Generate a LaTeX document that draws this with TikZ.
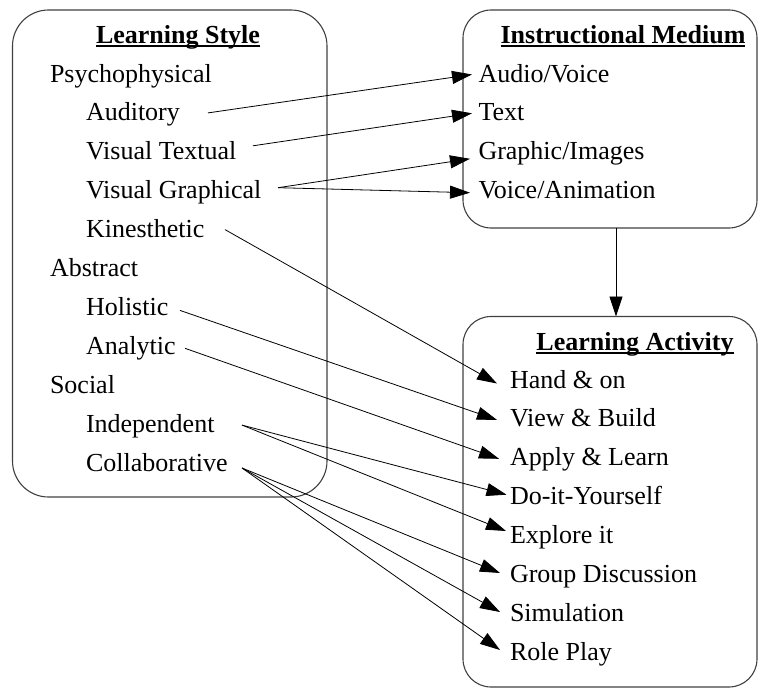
\documentclass[tikz,border=0pt]{standalone}
\usepackage{fontspec}
\setmainfont{Liberation Serif}
\usetikzlibrary{arrows.meta}
\begin{document}
\begin{tikzpicture}[x=1pt,y=-1pt,
  every node/.style={inner sep=0pt, outer sep=0pt, font=\fontsize{26}{31}\selectfont},
  item/.style={anchor=base west},
  ttl/.style={anchor=base, font=\fontsize{26}{31}\selectfont\bfseries},
  box/.style={draw=black!75, line width=1.1pt, rounded corners=#1, anchor=north west},
  conn/.style={draw=black, line width=0.8pt, -{Triangle[length=20pt,width=13pt]}},
  uline/.style={line width=1.4pt}]
\useasboundingbox (0,0) rectangle (758,688);

% boxes
\node[box=36pt, minimum width=314.5pt, minimum height=487pt] (ls) at (12.5,10) {};
\node[box=28pt, minimum width=294pt, minimum height=218pt] (im) at (463,10) {};
\node[box=28pt, minimum width=294pt, minimum height=370.5pt] (la) at (463,316.5) {};

% titles
\node[ttl] (lst) at (178,43) {Learning Style};
\node[ttl] (imt) at (623,43) {Instructional Medium};
\node[ttl] (lat) at (635,350) {Learning Activity};
\draw[uline] ([shift={(0,3)}]lst.base west) -- ([shift={(0,3)}]lst.base east);
\draw[uline] ([shift={(0,3)}]imt.base west) -- ([shift={(0,3)}]imt.base east);
\draw[uline] ([shift={(0,3)}]lat.base west) -- ([shift={(0,3)}]lat.base east);

% learning style items
\node[item] (psy) at (50,82) {Psychophysical};
\node[item] (aud) at (86,120.9) {Auditory};
\node[item] (vt)  at (86,159.8) {Visual Textual};
\node[item] (vg)  at (86,198.7) {Visual Graphical};
\node[item] (kin) at (86,237.6) {Kinesthetic};
\node[item] (abs) at (50,276.5) {Abstract};
\node[item] (hol) at (86,315.4) {Holistic};
\node[item] (ana) at (86,354.3) {Analytic};
\node[item] (soc) at (50,393.2) {Social};
\node[item] (ind) at (86,432.1) {Independent};
\node[item] (col) at (86,471) {Collaborative};

% instructional medium items
\node[item] (audio) at (478.5,82) {Audio/Voice};
\node[item] (text)  at (478.5,120.9) {Text};
\node[item] (graph) at (478.5,159.8) {Graphic/Images};
\node[item] (vanim) at (478.5,198.7) {Voice/Animation};

% learning activity items
\node[item] (hand) at (510,388) {Hand \& on};
\node[item] (view) at (510,426.9) {View \& Build};
\node[item] (apply) at (510,465.8) {Apply \& Learn};
\node[item] (diy) at (510,504.7) {Do-it-Yourself};
\node[item] (expl) at (510,543.6) {Explore it};
\node[item] (grp) at (510,582.5) {Group Discussion};
\node[item] (sim) at (510,621.4) {Simulation};
\node[item] (role) at (510,660.3) {Role Play};

% connectors
\draw[conn] ([shift={(122,-8)}]aud.base west) -- ([shift={(-6.5,-7.5)}]audio.base west);
\draw[conn] ([shift={(167,-14)}]vt.base west) -- ([shift={(-6.5,-7.6)}]text.base west);
\draw[conn] ([shift={(192,-11)}]vg.base west) -- ([shift={(-8.5,-1)}]graph.base west);
\draw[conn] ([shift={(192,-11)}]vg.base west) -- ([shift={(-8.5,-6)}]vanim.base west);
\draw[conn] ([shift={(139,-8)}]kin.base west) -- ([shift={(-13,-4.5)}]hand.base west);
\draw[conn] ([shift={(94,-5)}]hol.base west) -- ([shift={(-13,-7)}]view.base west);
\draw[conn] ([shift={(99,-6)}]ana.base west) -- ([shift={(-11,-7)}]apply.base west);
\draw[conn] ([shift={(156,-7)}]ind.base west) -- ([shift={(-3.5,-10)}]diy.base west);
\draw[conn] ([shift={(156,-7)}]ind.base west) -- ([shift={(-4,-12.6)}]expl.base west);
\draw[conn] ([shift={(156,-3)}]col.base west) -- ([shift={(-10,-9.5)}]grp.base west);
\draw[conn] ([shift={(156,-3)}]col.base west) -- ([shift={(-10,-9.4)}]sim.base west);
\draw[conn] ([shift={(156,-3)}]col.base west) -- ([shift={(-10,-10.3)}]role.base west);
\draw[conn] ([shift={(6,0)}]im.south) -- ([shift={(6,0)}]la.north);
\end{tikzpicture}
\end{document}
